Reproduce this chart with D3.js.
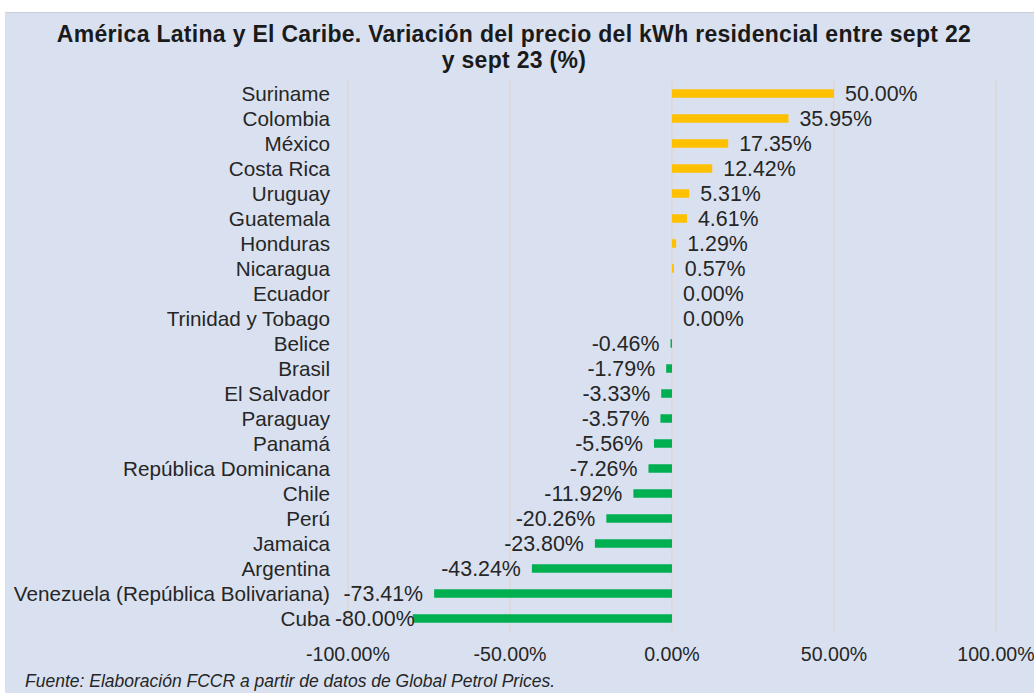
<!DOCTYPE html>
<html lang="es">
<head>
<meta charset="utf-8">
<script src="https://cdn.jsdelivr.net/npm/d3@7"></script>
<style>
  html, body { margin: 0; padding: 0; background: #ffffff; }
  svg { display: block; font-family: "Liberation Sans", Arial, sans-serif; }
</style>
</head>
<body>
<div id="chart"></div>
<script>
// Variación del precio del kWh residencial, sept 22 -> sept 23 (%)
const countries = [
    'Suriname', 'Colombia', 'México', 'Costa Rica', 'Uruguay', 'Guatemala',
    'Honduras', 'Nicaragua', 'Ecuador', 'Trinidad y Tobago', 'Belice', 'Brasil',
    'El Salvador', 'Paraguay', 'Panamá', 'República Dominicana', 'Chile', 'Perú',
    'Jamaica', 'Argentina', 'Venezuela (República Bolivariana)', 'Cuba'
];
const changes = [
    50.00, 35.95, 17.35, 12.42, 5.31, 4.61,
    1.29, 0.57, 0.00, 0.00, -0.46, -1.79,
    -3.33, -3.57, -5.56, -7.26, -11.92, -20.26,
    -23.80, -43.24, -73.41, -80.00
];
const xTicks = [-100, -50, 0, 50, 100];

const titleLines = [
    'América Latina y El Caribe. Variación del precio del kWh residencial entre sept 22',
    'y sept 23 (%)'
];
const sourceText = 'Fuente: Elaboración FCCR a partir de datos de Global Petrol Prices.';

const data = countries.map((c, i) => ({ country: c, value: changes[i] }));

const W = 1034, H = 693;
const margin = { top: 81, right: 38, bottom: 62, left: 348 };
const fmt = v => v.toFixed(2) + '%';

const svg = d3.select('#chart').append('svg')
    .attr('width', W)
    .attr('height', H);

// Panel background (white strip on top like the original capture)
svg.append('rect')
    .attr('x', 5).attr('y', 12)
    .attr('width', W - 5).attr('height', H - 12)
    .attr('fill', '#d9e1f0');

svg.append('line')
    .attr('x1', 5).attr('x2', W)
    .attr('y1', 12.5).attr('y2', 12.5)
    .attr('stroke', '#c9ced8')
    .attr('stroke-width', 1);

// Title
svg.append('g')
    .selectAll('text')
    .data(titleLines)
    .enter()
    .append('text')
    .attr('x', 514)
    .attr('y', (d, i) => 42 + i * 26)
    .attr('text-anchor', 'middle')
    .style('font-size', '23px')
    .style('font-weight', '700')
    .style('letter-spacing', '0.3px')
    .style('fill', '#1a1a1a')
    .text(d => d);

const xScale = d3.scaleLinear()
    .domain([-100, 100])
    .range([margin.left, W - margin.right]);

const yScale = d3.scaleBand()
    .domain(countries)
    .range([margin.top, H - margin.bottom])
    .paddingInner(0.66)
    .paddingOuter(0.33);

// Vertical gridlines
svg.append('g')
    .selectAll('line')
    .data(xTicks)
    .enter()
    .append('line')
    .attr('x1', d => xScale(d)).attr('x2', d => xScale(d))
    .attr('y1', margin.top).attr('y2', H - margin.bottom)
    .attr('stroke', '#ddd5cd')
    .attr('stroke-width', 1.2);

// Bars
svg.append('g')
    .selectAll('rect')
    .data(data)
    .enter()
    .append('rect')
    .attr('x', d => xScale(Math.min(0, d.value)))
    .attr('y', d => yScale(d.country))
    .attr('width', d => Math.abs(xScale(d.value) - xScale(0)))
    .attr('height', yScale.bandwidth())
    .attr('fill', d => d.value >= 0 ? '#ffc000' : '#00b050');

// Category labels
svg.append('g')
    .selectAll('text')
    .data(data)
    .enter()
    .append('text')
    .attr('x', xScale(-100) - 18)
    .attr('y', d => yScale(d.country) + yScale.bandwidth() / 2)
    .attr('dy', '0.36em')
    .attr('text-anchor', 'end')
    .style('font-size', '20.7px')
    .style('fill', '#262626')
    .text(d => d.country);

// Value labels (outside end; pushed back inside the plot when too wide)
const valueLabels = svg.append('g')
    .selectAll('text')
    .data(data)
    .enter()
    .append('text')
    .attr('y', d => yScale(d.country) + yScale.bandwidth() / 2)
    .attr('dy', '0.36em')
    .style('font-size', '21.4px')
    .style('fill', '#262626')
    .text(d => fmt(d.value));

valueLabels.each(function(d) {
    const el = d3.select(this);
    if (d.value >= 0) {
        el.attr('x', xScale(d.value) + 11).attr('text-anchor', 'start');
    } else {
        const w = this.getComputedTextLength();
        const end = Math.max(xScale(d.value) - 11, xScale(-100) - 13 + w);
        el.attr('x', end).attr('text-anchor', 'end');
    }
});

// X axis labels
svg.append('g')
    .selectAll('text')
    .data(xTicks)
    .enter()
    .append('text')
    .attr('x', d => xScale(d))
    .attr('y', 661)
    .attr('text-anchor', 'middle')
    .style('font-size', '19.6px')
    .style('fill', '#262626')
    .text(d => fmt(d));

// Source
svg.append('text')
    .attr('x', 25)
    .attr('y', 687)
    .style('font-size', '17.5px')
    .style('font-style', 'italic')
    .style('fill', '#262626')
    .text(sourceText);
</script>
</body>
</html>
